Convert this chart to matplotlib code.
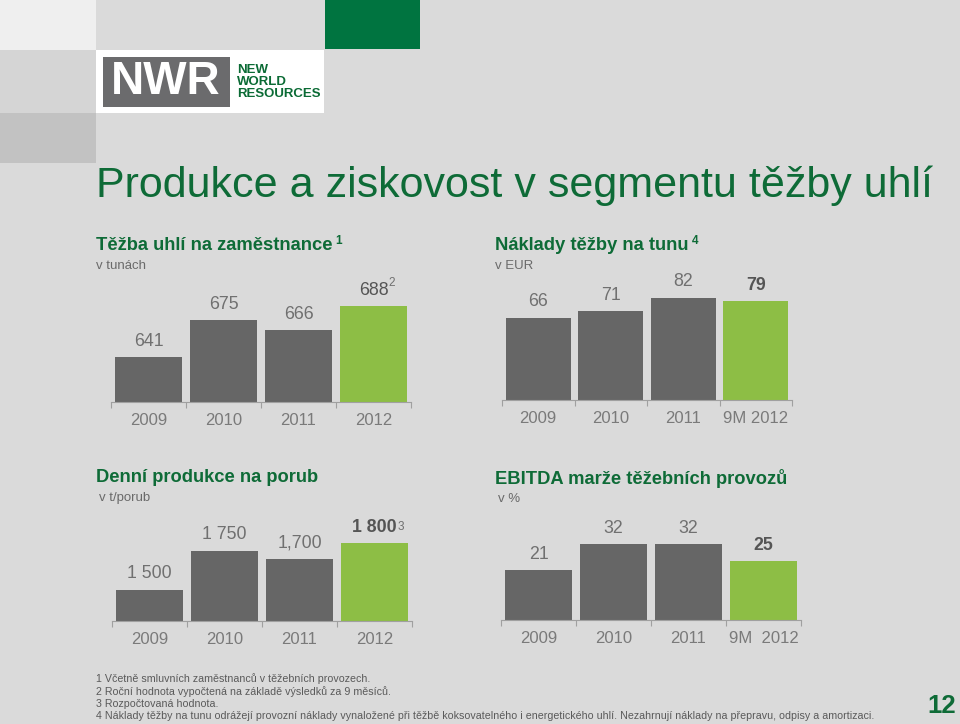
import matplotlib
matplotlib.use("Agg")
import matplotlib.pyplot as plt
from matplotlib.patches import Rectangle
from matplotlib import font_manager as fm
import matplotlib.transforms as mtransforms

# ---------------- data ----------------
cats_a = ["2009", "2010", "2011", "2012"]
cats_b = ["2009", "2010", "2011", "9M 2012"]
cats_d = ["2009", "2010", "2011", "9M  2012"]

coal_per_employee = [641, 675, 666, 688]
coal_per_employee_lbl = ["641", "675", "666", "688"]

cost_per_tonne = [66, 71, 82, 79]
cost_per_tonne_lbl = ["66", "71", "82", "79"]

daily_per_face = [1500, 1750, 1700, 1800]
daily_per_face_lbl = ["1 500", "1 750", "1,700", "1 800"]

ebitda_margin = [21, 32, 32, 25]
ebitda_margin_lbl = ["21", "32", "32", "25"]

footnotes = [
    "1 Včetně smluvních zaměstnanců v těžebních provozech.",
    "2 Roční hodnota vypočtená na základě výsledků za 9 měsíců.",
    "3 Rozpočtovaná hodnota.",
    "4 Náklady těžby na tunu odrážejí provozní náklady vynaložené při těžbě koksovatelného i energetického uhlí. Nezahrnují náklady na přepravu, odpisy a amortizaci.",
]

# ---------------- style ----------------
W, H = 960, 724
BG = "#DADADA"
GREEN_T = "#0E6B37"
GREEN_B = "#8DBE45"
GRAY_B = "#666666"
GRAY_V = "#707070"
GRAY_VB = "#555555"
GRAY_TK = "#7A7A7A"


def has_font(name):
    try:
        fm.findfont(fm.FontProperties(family=name), fallback_to_default=False)
        return True
    except Exception:
        return False

SANS = "Liberation Sans"
NARROW = "Liberation Sans Narrow" if has_font("Liberation Sans Narrow") else "Liberation Sans"
plt.rcParams["font.family"] = [SANS, "DejaVu Sans"]

fig = plt.figure(figsize=(W / 100, H / 100), dpi=100, facecolor=BG)


def fx(x):
    return x / W


def fy(y):
    return 1 - y / H


def frect(x0, y0, x1, y1, color):
    fig.add_artist(Rectangle((fx(x0), fy(y1)), (x1 - x0) / W, (y1 - y0) / H,
                             transform=fig.transFigure, facecolor=color,
                             edgecolor="none", zorder=0))


# background blocks
frect(0, 0, 96, 50, "#EFEFEF")
frect(0, 50, 96, 113, "#D5D5D5")
frect(0, 113, 96, 163, "#C2C2C2")
frect(325, 0, 420, 49, "#007440")
# logo
frect(96, 50, 324, 113, "#FFFFFF")
frect(103, 57, 230, 107, "#6B6B6D")
fig.text(fx(166), fy(82), "NWR", color="white", fontsize=33, fontweight="bold",
         ha="center", va="center", family=SANS)
for i, w in enumerate(["NEW", "WORLD", "RESOURCES"]):
    fig.text(fx(237), fy(70 + 12 * i), w, color="#0B6B35", fontsize=9.5,
             fontweight="bold", ha="left", va="center", family=SANS)

# main title
fig.text(fx(96), fy(186), "Produkce a ziskovost v segmentu těžby uhlí",
         color=GREEN_T, fontsize=31, ha="left", va="center", family=NARROW)

fig.canvas.draw()
renderer = fig.canvas.get_renderer()


def heading(x, y, text, sup=None, sub=None, subx=None):
    t = fig.text(fx(x), fy(y), text, color=GREEN_T, fontsize=13.2,
                 fontweight="bold", ha="left", va="center")
    if sup:
        bb = t.get_window_extent(renderer)
        fig.text((bb.x1 + 3) / W, fy(y - 4), sup, color=GREEN_T, fontsize=8.5,
                 fontweight="bold", ha="left", va="center")
    if sub:
        fig.text(fx(subx if subx else x), fy(y + 21), sub, color="#6A6A6A",
                 fontsize=9.5, ha="left", va="center")


heading(96, 245, "Těžba uhlí na zaměstnance", sup="1", sub="v tunách")
heading(495, 245, "Náklady těžby na tunu", sup="4", sub="v EUR")
heading(96, 477, "Denní produkce na porub", sub="v t/porub", subx=99)
heading(495, 478, "EBITDA marže těžebních provozů", sub="v %", subx=498)


def chart(left, right, base, top, ymin, pxu, vals, lbls, cats, sup=None,
          sup_raise=5, bold_last=True):
    ax = fig.add_axes([fx(left), fy(base), (right - left) / W, (base - top) / H])
    ax.set_facecolor("none")
    ymax = ymin + (base - top) / pxu
    ax.set_xlim(-0.5, 3.5)
    ax.set_ylim(ymin, ymax)
    colors = [GRAY_B, GRAY_B, GRAY_B, GREEN_B]
    ax.bar(range(4), vals, width=0.9, color=colors, bottom=0, zorder=2)
    for s in ["top", "left", "right"]:
        ax.spines[s].set_visible(False)
    ax.spines["bottom"].set_color("#A0A0A0")
    ax.spines["bottom"].set_linewidth(0.8)
    ax.set_yticks([])
    ax.set_xticks(range(4))
    ax.set_xticklabels(cats, fontsize=12, color=GRAY_TK)
    ax.tick_params(axis="x", which="major", length=0, pad=8)
    ax.set_xticks([-0.5, 0.5, 1.5, 2.5, 3.5], minor=True)
    ax.tick_params(axis="x", which="minor", length=4, width=0.8,
                   color="#A0A0A0", direction="out")
    for i, (v, l) in enumerate(zip(vals, lbls)):
        last = i == 3
        tr = mtransforms.offset_copy(ax.transData, fig=fig, y=11.5, units="points")
        t = ax.text(i, v, l, transform=tr, ha="center", va="center",
                    fontsize=12.8, color=GRAY_VB if last else GRAY_V,
                    fontweight="bold" if (last and bold_last) else "normal")
        if last and sup:
            bb = t.get_window_extent(renderer)
            tr2 = mtransforms.offset_copy(ax.transData, fig=fig,
                                          y=11.5 + sup_raise, units="points")
            t2 = ax.text(i, v, sup, transform=tr2, ha="left", va="center",
                         fontsize=8.5, color=GRAY_V)
            xd = ax.transData.inverted().transform((bb.x1 + 0.5, 0))[0]
            t2.set_x(xd)
    return ax


chart(111, 411, 402, 270, 600, 1.09, coal_per_employee, coal_per_employee_lbl,
      cats_a, sup="2", sup_raise=5, bold_last=False)
chart(502, 792, 400, 270, 0, 1.25, cost_per_tonne, cost_per_tonne_lbl, cats_b)
chart(112, 412, 621, 500, 1300, 0.156, daily_per_face, daily_per_face_lbl,
      cats_a, sup="3", sup_raise=0)
chart(501, 801, 620, 500, 0, 2.36, ebitda_margin, ebitda_margin_lbl, cats_d)

# footnotes
for i, line in enumerate(footnotes):
    fig.text(fx(96), fy(679 + 12.3 * i), line, color="#5A5A5A", fontsize=7.7,
             ha="left", va="center", family=NARROW)

fig.text(fx(942), fy(706), "12", color=GREEN_T, fontsize=18.5, fontweight="bold",
         ha="center", va="center", family=NARROW)

fig.savefig("out.png", dpi=100, facecolor=BG)
